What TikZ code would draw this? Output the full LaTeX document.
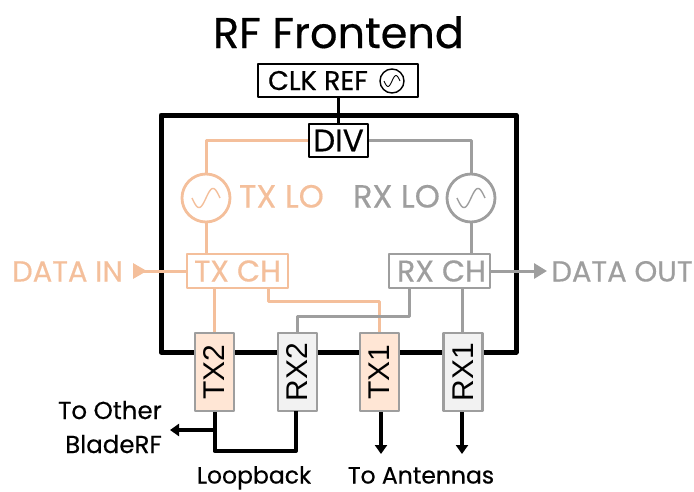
\documentclass[tikz,border=0pt]{standalone}
\usepackage{fontspec}
\setmainfont{Poppins}[FakeBold=0.45]
\newfontfamily\portfont{Liberation Sans}
\usetikzlibrary{arrows.meta}
\definecolor{txcolor}{rgb}{0.957,0.749,0.608}
\definecolor{rxcolor}{rgb}{0.62,0.62,0.62}
\definecolor{txfill}{rgb}{1.,0.902,0.835}
\definecolor{rxfill}{rgb}{0.949,0.949,0.949}
\newcommand{\sinewave}[3]{\draw[#3,smooth,samples=40,domain=-1:1,shift={(#1)}] plot(#2*\x,{-0.68*#2*sin(\x*180)});}
\tikzset{
  txline/.style={line width=3pt,color=txcolor},
  rxline/.style={line width=3pt,color=rxcolor},
  blackline/.style={line width=4pt,color=black},
  chbox/.style={draw,line width=2.4pt,fill=white,inner sep=0pt,minimum width=101pt,minimum height=34pt,font=\fontsize{30}{30}\selectfont},
  blackbox/.style={draw=black,line width=2.4pt,fill=white,inner sep=0pt,minimum height=33pt},
  portbox/.style={draw=rxcolor,line width=2.2pt,inner sep=0pt,minimum width=39pt,minimum height=78pt,text=black,font=\portfont\fontsize{30}{30}\selectfont},
  osc/.style={draw,circle,inner sep=0pt,fill=white,line width=2.8pt,minimum size=48pt},
  lbl/.style={inner sep=0pt,anchor=base},
  lolbl/.style={lbl,font=\fontsize{32}{32}\selectfont},
  sidelbl/.style={lbl,font=\fontsize{29}{29}\selectfont},
  smalllbl/.style={lbl,text=black,font=\fontsize{24.5}{24.5}\selectfont},
  bottomlbl/.style={lbl,text=black,font=\fontsize{23.5}{23.5}\selectfont}
}
\begin{document}
\begin{tikzpicture}[line cap=butt,line join=round,x=1pt,y=-1pt]
\useasboundingbox (0,0) rectangle (694,491);
\draw[line width=5pt,color=black] (161,115) rectangle (516,352);
\node[lbl,font=\fontsize{43}{43}\selectfont] (title) at (338.5,48) {RF Frontend};
\node[blackbox,minimum width=160pt] (clk) at (338,80.5) {};
\node[lbl,font=\fontsize{27}{27}\selectfont,text=black] (clktext) at (318,90) {CLK REF};
\node[osc,draw=black,minimum size=24pt,line width=1.4pt] (clkosc) at (392,81) {};
\node[blackbox,minimum width=59pt,font=\fontsize{31}{31}\selectfont] (div) at (338.5,140.5) {DIV};
\draw[line width=3.4pt,color=black] (clk.south -| div) -- (div.north);
\node[osc,draw=txcolor] (txlo) at (206,198) {};
\node[osc,draw=rxcolor] (rxlo) at (471,198) {};
\sinewave{txlo}{14}{line width=1.4pt,color=txcolor}
\sinewave{rxlo}{14}{line width=1.4pt,color=rxcolor}
\sinewave{clkosc}{8}{line width=0.9pt,color=black}
\node[lolbl,text=txcolor] (txlotext) at (281.5,207.5) {TX LO};
\node[lolbl,text=rxcolor] (rxlotext) at (396.5,207.5) {RX LO};
\node[chbox,draw=txcolor,text=txcolor] (txch) at (237.5,271) {TX CH};
\node[chbox,draw=rxcolor,text=rxcolor] (rxch) at (439.5,271) {\kern4pt RX CH};
\node[portbox,fill=txfill] (tx2) at (214.5,372) {\rotatebox{90}{TX2}};
\node[portbox,fill=rxfill] (rx2) at (297.5,372) {\rotatebox{90}{RX2}};
\node[portbox,fill=txfill] (tx1) at (379.5,372) {\rotatebox{90}{TX1}};
\node[portbox,fill=rxfill] (rx1) at (463,372) {\rotatebox{90}{RX1}};
\coordinate (datain) at (133,271);
\coordinate (dataout) at (547,271);
\coordinate (otherend) at (170,430);
\coordinate (tx1end) at (381,454);
\coordinate (rx1end) at (462,454);
\draw[txline] (div.west) -| (txlo.north);
\draw[rxline] (div.east) -| (rxlo.north);
\draw[txline] (txlo.south) -- (txlo.south |- txch.north);
\draw[rxline] (rxlo.south) -- (rxlo.south |- rxch.north);
\draw[txline,-{Triangle[reversed,length=14pt,width=15pt]}] (txch.west) -- (datain);
\draw[rxline,-{Triangle[length=13pt,width=15pt]}] (rxch.east) -- (dataout);
\draw[txline] (tx2.north) -- (tx2.north |- txch.south);
\draw[rxline] (rx1.north -| rx1end) -- (rx1end |- rxch.south);
\draw[txline] ([xshift=30.5pt]txch.south) |- (268,301) -| (tx1.north);
\draw[rxline] ([xshift=-30.5pt]rxch.south) |- (409,316) -| (rx2.north);
\draw[blackline] (tx2.south) |- (296,451) -- (296,411);
\draw[blackline,-{Triangle[length=9pt,width=12pt]}] (214.5,430) -- (otherend);
\draw[blackline,-{Triangle[length=9pt,width=12pt]}] (tx1end |- tx1.south) -- (tx1end);
\draw[blackline,-{Triangle[length=9pt,width=12pt]}] (rx1end |- rx1.south) -- (rx1end);
\node[sidelbl,text=txcolor] (dataintext) at (67.5,281.5) {DATA IN};
\node[sidelbl,text=rxcolor] (dataouttext) at (622,281.5) {DATA OUT};
\node[smalllbl,anchor=base east] (othertext) at (162,419) {To Other};
\node[smalllbl,anchor=base east] (bladetext) at (162,453) {BladeRF};
\node[bottomlbl] (looptext) at (254,483.5) {Loopback};
\node[bottomlbl] (anttext) at (421,483.5) {To Antennas};
\end{tikzpicture}
\end{document}
